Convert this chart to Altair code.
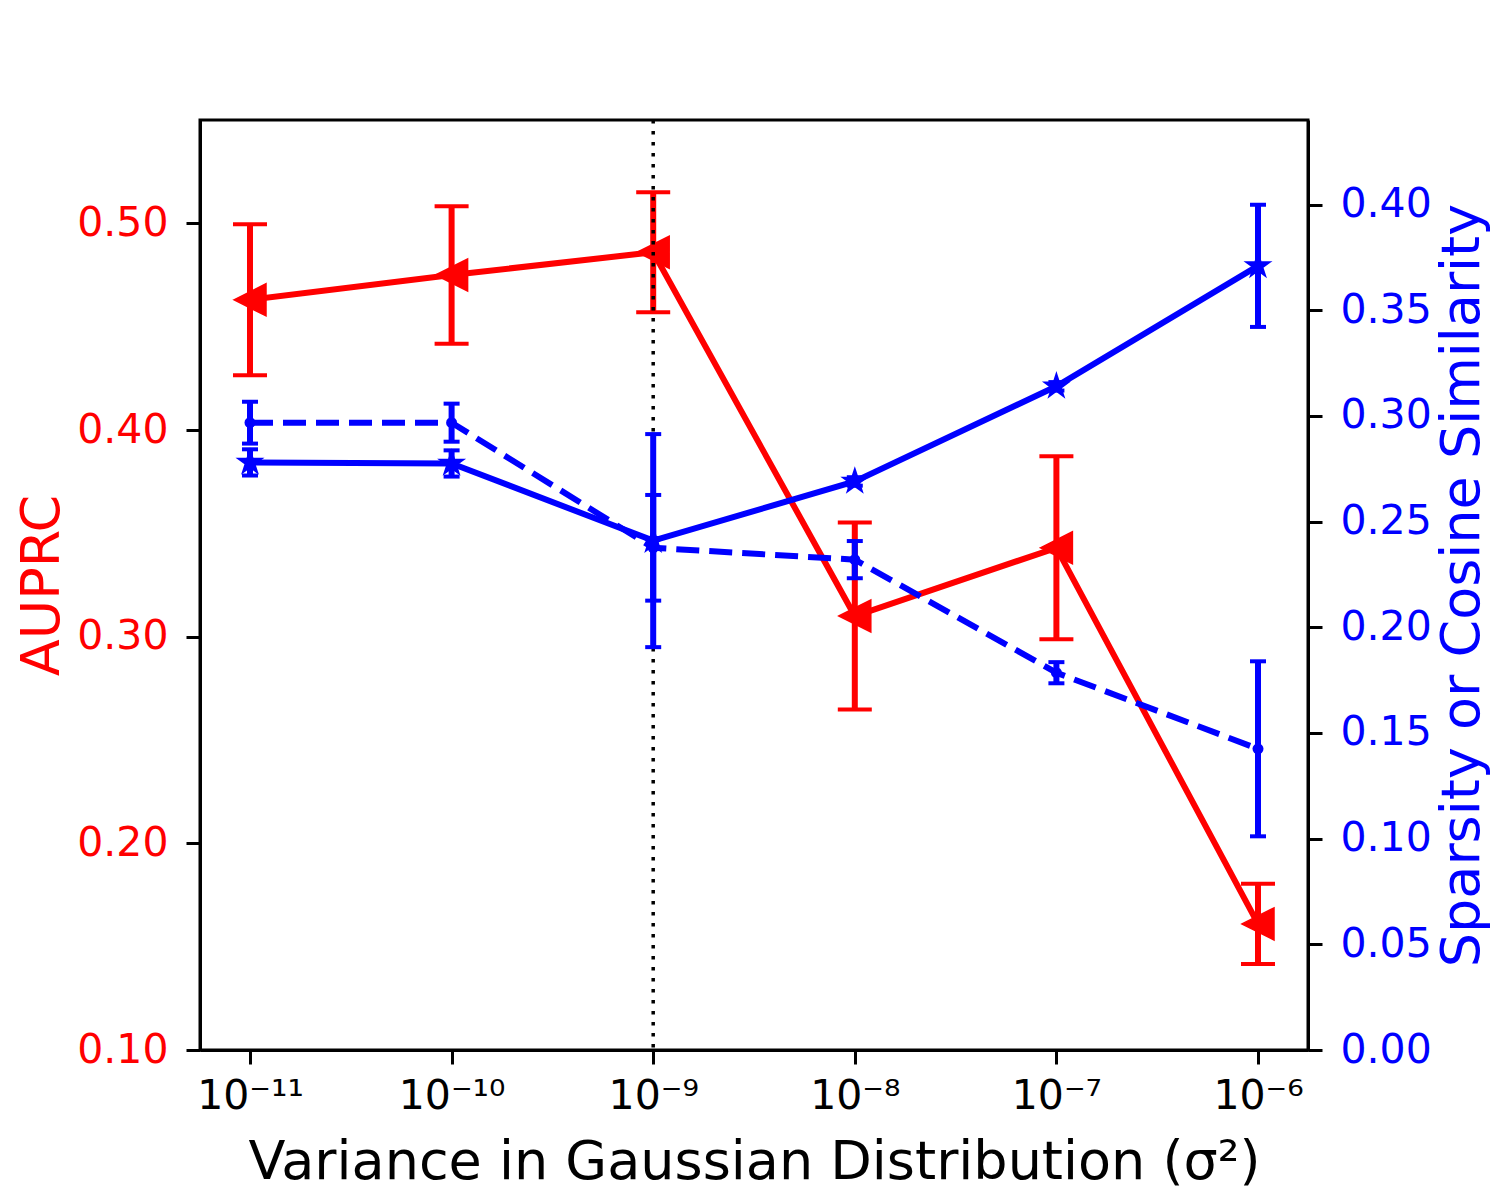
import altair as alt
import pandas as pd

# ---- data ----
x_exp = [-11, -10, -9, -8, -7, -6]
x_tick_labels = ["10⁻¹¹", "10⁻¹⁰", "10⁻⁹", "10⁻⁸", "10⁻⁷", "10⁻⁶"]

auprc_mean = [0.463, 0.475, 0.486, 0.310, 0.343, 0.161]
auprc_err = [0.0365, 0.0333, 0.029, 0.0452, 0.0443, 0.0194]

cos_mean = [0.278, 0.2775, 0.241, 0.269, 0.314, 0.371]   # solid, stars
cos_err = [0.0062, 0.0062, 0.0504, 0.002, 0.002, 0.0289]

spars_mean = [0.2968, 0.2968, 0.2376, 0.232, 0.1785, 0.1425]  # dashed, dots
spars_err = [0.0099, 0.009, 0.025, 0.0088, 0.005, 0.0414]

vline_x = [-9]

left_ticks = [0.10, 0.20, 0.30, 0.40, 0.50]
right_ticks = [0.00, 0.05, 0.10, 0.15, 0.20, 0.25, 0.30, 0.35, 0.40]

RED = "#ff0000"
BLUE = "#0000ff"
FONT = "DejaVu Sans"

STAR = ("M0,-1L0.2245,-0.309L0.951,-0.309L0.363,0.118L0.588,0.809L0,0.382"
        "L-0.588,0.809L-0.363,0.118L-0.951,-0.309L-0.2245,-0.309Z")
TRI_LEFT = "M-1,0L1,-1L1,1Z"


def frame(means, errs):
    return pd.DataFrame({
        "x": x_exp,
        "m": means,
        "lo": [m - e for m, e in zip(means, errs)],
        "hi": [m + e for m, e in zip(means, errs)],
    })


def caps(df):
    return pd.concat([
        pd.DataFrame({"x": df["x"], "v": df["lo"]}),
        pd.DataFrame({"x": df["x"], "v": df["hi"]}),
    ])


label_expr = " : ".join(
    f"datum.value == {v} ? '{l}'" for v, l in zip(x_exp, x_tick_labels)
) + " : ''"

X = alt.X(
    "x:Q",
    scale=alt.Scale(domain=[-11.248, -5.752], nice=False, zero=False),
    axis=alt.Axis(
        values=x_exp, labelExpr=label_expr, labelFlush=False, labelOverlap=False,
        title="Variance in Gaussian Distribution (σ²)", titleColor="black",
        labelColor="black", labelFontSize=41, titleFontSize=54,
        labelPadding=12, titlePadding=19,
    ),
)

left_scale = alt.Scale(domain=[0.10, 0.55], nice=False, zero=False)
left_axis = alt.Axis(
    orient="left", values=left_ticks, format=".2f", title="AUPRC",
    titleColor=RED, labelColor=RED, labelFontSize=41, titleFontSize=54,
    labelPadding=18, titlePadding=7,
)
right_scale = alt.Scale(domain=[0.0, 0.44], nice=False, zero=False)
right_axis = alt.Axis(
    orient="right", values=right_ticks, format=".2f",
    title="Sparsity or Cosine Similarity", titleColor=BLUE, labelColor=BLUE,
    labelFontSize=41, titleFontSize=54, labelPadding=18, titlePadding=4,
    titleAngle=270, titleBaseline="top",
)

# ---- red (AUPRC) group ----
red_df = frame(auprc_mean, auprc_err)
red_caps = caps(red_df)

red_bars = alt.Chart(red_df).mark_rule(color=RED, strokeWidth=6).encode(
    x=X, y=alt.Y("lo:Q", scale=left_scale, axis=left_axis), y2="hi:Q")
red_capm = alt.Chart(red_caps).mark_point(
    shape="stroke", size=34 * 34, strokeWidth=4, color=RED, filled=False, opacity=1
).encode(x=X, y=alt.Y("v:Q", scale=left_scale, axis=left_axis))
red_line = alt.Chart(red_df).mark_line(color=RED, strokeWidth=6).encode(
    x=X, y=alt.Y("m:Q", scale=left_scale, axis=left_axis))
red_pts = alt.Chart(red_df).mark_point(
    shape=TRI_LEFT, size=1024, filled=True, color=RED, opacity=1,
    stroke=RED, strokeWidth=1.5,
).encode(x=X, y=alt.Y("m:Q", scale=left_scale, axis=left_axis))

vline = alt.Chart(pd.DataFrame({"x": vline_x})).mark_rule(
    color="black", strokeWidth=3.5, strokeDash=[3.5, 7.5]
).encode(x=X)

red_group = alt.layer(red_bars, red_capm, red_line, red_pts, vline)

# ---- blue group ----
cos_df = frame(cos_mean, cos_err)
sp_df = frame(spars_mean, spars_err)


def blue_layers(df, dash, shape, size, edge):
    bars = alt.Chart(df).mark_rule(color=BLUE, strokeWidth=6).encode(
        x=X, y=alt.Y("lo:Q", scale=right_scale, axis=right_axis), y2="hi:Q")
    capm = alt.Chart(caps(df)).mark_point(
        shape="stroke", size=16 * 16, strokeWidth=4, color=BLUE, filled=False, opacity=1
    ).encode(x=X, y=alt.Y("v:Q", scale=right_scale, axis=right_axis))
    line_kw = dict(color=BLUE, strokeWidth=6)
    if dash:
        line_kw["strokeDash"] = dash
    line = alt.Chart(df).mark_line(**line_kw).encode(
        x=X, y=alt.Y("m:Q", scale=right_scale, axis=right_axis))
    pts = alt.Chart(df).mark_point(
        shape=shape, size=size, filled=True, color=BLUE, opacity=1,
        stroke=BLUE, strokeWidth=edge,
    ).encode(x=X, y=alt.Y("m:Q", scale=right_scale, axis=right_axis))
    return [bars, capm, line, pts]


blue_group = alt.layer(
    *blue_layers(sp_df, [23, 10], "circle", 121, 0),
    *blue_layers(cos_df, None, STAR, 500, 2.5),
)

chart = alt.layer(red_group, blue_group).resolve_scale(y="independent").properties(
    width=1108, height=930,
    autosize=alt.AutoSizeParams(type="none"),
    padding={"left": 192, "top": 112, "right": 184, "bottom": 142},
).configure(
    font=FONT,
).configure_view(
    stroke="black", strokeWidth=3,
).configure_axis(
    domainColor="black", domainWidth=3, tickColor="black", tickWidth=3,
    tickSize=14, grid=False, labelFont=FONT, titleFont=FONT,
    titleFontWeight="normal",
)

chart.save("out.html", embed_options={"renderer": "svg", "actions": False})
